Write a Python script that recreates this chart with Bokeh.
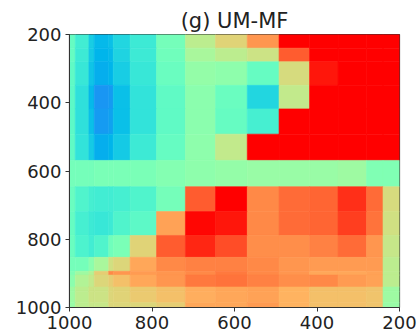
import math
from bokeh.plotting import figure
from bokeh.models import Range1d, ColumnDataSource, LinearColorMapper, FixedTicker
from bokeh.transform import transform
from bokeh.embed import file_html
from bokeh.resources import INLINE

# ---- data ----
title_text = "(g) UM-MF"
level_edges = [1000, 986, 953, 940, 905, 894, 853, 789, 719, 646, 569, 492, 418, 349, 280, 240, 200]
tick_values = [200, 400, 600, 800, 1000]

# rows: top (200) to bottom (1000); columns: left (1000) to right (200)
values = [
    [0.45, 0.38, 0.30, 0.26, 0.27, 0.32, 0.37, 0.48, 0.62, 0.69, 0.80, 1.05, 1.05, 1.05, 1.05, 1.05],
    [0.45, 0.37, 0.29, 0.25, 0.26, 0.31, 0.37, 0.47, 0.58, 0.62, 0.65, 0.88, 1.05, 1.05, 1.05, 1.05],
    [0.44, 0.36, 0.28, 0.24, 0.25, 0.30, 0.36, 0.46, 0.54, 0.53, 0.45, 0.67, 0.97, 1.05, 1.05, 1.05],
    [0.43, 0.34, 0.26, 0.20, 0.21, 0.27, 0.35, 0.44, 0.52, 0.46, 0.32, 0.63, 1.05, 1.05, 1.05, 1.05],
    [0.43, 0.34, 0.27, 0.21, 0.22, 0.27, 0.35, 0.44, 0.52, 0.45, 0.39, 1.05, 1.05, 1.05, 1.05, 1.05],
    [0.44, 0.35, 0.29, 0.24, 0.25, 0.29, 0.37, 0.45, 0.53, 0.63, 1.00, 1.05, 1.05, 1.05, 1.05, 1.05],
    [0.48, 0.48, 0.48, 0.49, 0.49, 0.49, 0.49, 0.51, 0.53, 0.54, 0.55, 0.55, 0.55, 0.56, 0.50, 0.50],
    [0.46, 0.41, 0.39, 0.38, 0.38, 0.39, 0.41, 0.48, 0.88, 1.00, 0.82, 0.86, 0.87, 0.94, 0.86, 0.67],
    [0.45, 0.39, 0.37, 0.36, 0.37, 0.41, 0.43, 0.78, 0.99, 0.97, 0.82, 0.86, 0.87, 0.92, 0.85, 0.66],
    [0.46, 0.40, 0.38, 0.41, 0.47, 0.49, 0.69, 0.88, 0.95, 0.90, 0.81, 0.81, 0.83, 0.86, 0.80, 0.64],
    [0.48, 0.48, 0.52, 0.58, 0.66, 0.68, 0.77, 0.82, 0.83, 0.83, 0.82, 0.80, 0.79, 0.79, 0.79, 0.62],
    [0.50, 0.56, 0.60, 0.70, 0.82, 0.80, 0.79, 0.80, 0.82, 0.84, 0.82, 0.80, 0.77, 0.77, 0.78, 0.62],
    [0.52, 0.60, 0.63, 0.68, 0.70, 0.73, 0.77, 0.80, 0.84, 0.85, 0.83, 0.81, 0.82, 0.79, 0.78, 0.62],
    [0.56, 0.62, 0.65, 0.65, 0.68, 0.69, 0.71, 0.73, 0.76, 0.77, 0.78, 0.75, 0.73, 0.73, 0.72, 0.56],
    [0.56, 0.62, 0.65, 0.65, 0.68, 0.69, 0.71, 0.73, 0.76, 0.77, 0.78, 0.75, 0.73, 0.73, 0.72, 0.56],
    [0.55, 0.62, 0.64, 0.64, 0.68, 0.68, 0.68, 0.70, 0.77, 0.77, 0.79, 0.75, 0.73, 0.73, 0.72, 0.55],
]

# ---- colormap (matplotlib "rainbow") ----
def rainbow(t):
    r = min(1.0, max(0.0, abs(2 * t - 0.5)))
    g = min(1.0, max(0.0, math.sin(math.pi * t)))
    b = min(1.0, max(0.0, math.cos(math.pi * t / 2)))
    return "#%02x%02x%02x" % (round(r * 255), round(g * 255), round(b * 255))

palette = [rainbow(i / 255) for i in range(256)]
mapper = LinearColorMapper(palette=palette, low=0.0, high=1.0)

x_edges = level_edges
y_edges = list(reversed(level_edges))

left, right, top, bottom, val = [], [], [], [], []
for r, row in enumerate(values):
    for c, v in enumerate(row):
        left.append(x_edges[c]); right.append(x_edges[c + 1])
        top.append(y_edges[r]); bottom.append(y_edges[r + 1])
        val.append(v)
src = ColumnDataSource(dict(left=left, right=right, top=top, bottom=bottom, v=val))

p = figure(width=420, height=331, output_backend="svg", toolbar_location=None,
           x_range=Range1d(1000, 200), y_range=Range1d(1000, 200),
           min_border_left=69, min_border_right=21, min_border_top=34, min_border_bottom=0,
           title=title_text)
p.quad(left="left", right="right", top="top", bottom="bottom", source=src,
       fill_color=transform("v", mapper), line_color=transform("v", mapper), line_width=0.6)

p.title.align = "center"
p.title.text_font = "DejaVu Sans"
p.title.text_font_size = "21px"
p.title.text_font_style = "normal"
p.title.text_color = "#222222"
p.title.standoff = 4

p.grid.visible = False
p.outline_line_color = "#333333"
p.outline_line_width = 1.2
for ax in (p.xaxis[0], p.yaxis[0]):
    ax.ticker = FixedTicker(ticks=tick_values)
    ax.major_label_text_font = "DejaVu Sans"
    ax.major_label_text_font_size = "18px"
    ax.major_label_text_color = "#222222"
    ax.axis_line_color = "#333333"
    ax.major_tick_line_color = "#333333"
    ax.major_tick_out = 4
    ax.major_tick_in = 0
    ax.minor_tick_out = 0
    ax.minor_tick_in = 0
    ax.major_label_standoff = 4
p.background_fill_color = "white"
p.border_fill_color = "white"

open("out.html", "w").write(file_html(p, INLINE))
